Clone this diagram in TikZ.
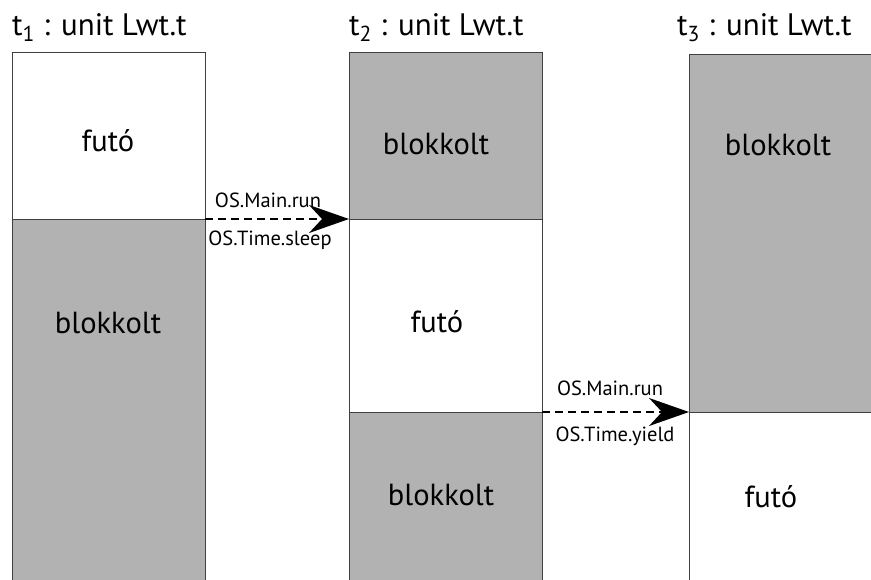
\documentclass[tikz,border=0pt]{standalone}
\usepackage{fontspec}
\setmainfont{PT Sans}
\usetikzlibrary{arrows.meta}
\begin{document}
\begin{tikzpicture}[x=1pt,y=-1pt,
  seg/.style={rectangle, draw=black!75, line width=1pt, inner sep=0pt, outer sep=0pt,
    anchor=north west, minimum width=193pt},
  blk/.style={seg, fill=black!30},
  run/.style={seg, fill=white},
  state/.style={font=\fontsize{30.5}{34}\selectfont, inner sep=0pt, anchor=base},
  ttl/.style={font=\fontsize{31}{34}\selectfont, inner sep=0pt, anchor=base west},
  call/.style={font=\fontsize{20.5}{24}\selectfont, inner sep=0pt, anchor=base},
  trans/.style={dash pattern=on 8pt off 5pt, line width=2pt,
    -{Stealth[length=40pt,width=28pt,inset=13pt]}}]
\useasboundingbox (0,0) rectangle (871,579);
\clip (0,0) rectangle (871,579);
% column 1
\node[run, minimum height=167pt] (c1a) at (12,52) {};
\node[blk, minimum height=380pt] (c1b) at (12,219) {};
% column 2
\node[blk, minimum height=167pt] (c2a) at (349,52) {};
\node[run, minimum height=193pt] (c2b) at (349,219) {};
\node[blk, minimum height=190pt] (c2c) at (349,412) {};
% column 3
\node[blk, minimum height=358pt] (c3a) at (689,54) {};
\node[run, minimum height=190pt] (c3b) at (689,412) {};
% state labels
\node[state] (l1a) at (108,151) {futó};
\node[state] (l1b) at (108,333) {blokkolt};
\node[state] (l2a) at (436,154) {blokkolt};
\node[state] (l2b) at (437,332) {futó};
\node[state] (l2c) at (441,505) {blokkolt};
\node[state] (l3a) at (778,155) {blokkolt};
\node[state] (l3b) at (771,507) {futó};
% titles
\node[ttl] (t1) at (12,35) {t\textsubscript{1} : unit Lwt.t};
\node[ttl] (t2) at (349,35) {t\textsubscript{2} : unit Lwt.t};
\node[ttl] (t3) at (677,35) {t\textsubscript{3} : unit Lwt.t};
% transitions
\draw[trans] (c1a.south east) -- (c2a.south west);
\draw[trans] (c2b.south east) -- (c3a.south west);
\node[call] (k1a) at (268,207) {OS.Main.run};
\node[call] (k1b) at (270,245) {OS.Time.sleep};
\node[call] (k2a) at (610,395) {OS.Main.run};
\node[call] (k2b) at (615,441) {OS.Time.yield};
\end{tikzpicture}
\end{document}
